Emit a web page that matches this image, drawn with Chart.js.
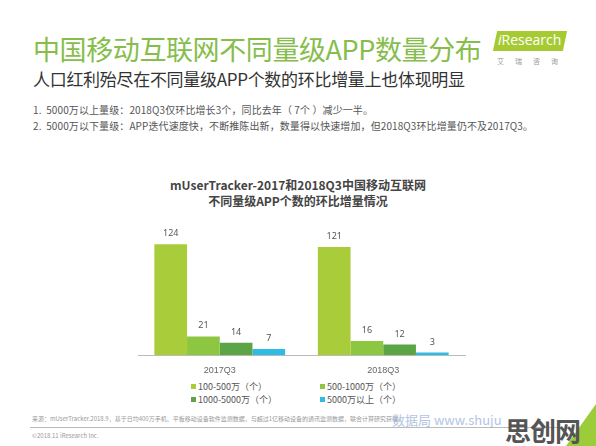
<!DOCTYPE html>
<html>
<head>
<meta charset="utf-8">
<script src="https://cdn.jsdelivr.net/npm/chart.js@4.4.0/dist/chart.umd.min.js"></script>
<style>
  body { margin: 0; width: 596px; height: 446px; background: #fff; overflow: hidden; position: relative;
         font-family: "Noto Sans CJK SC", "Noto Sans", sans-serif; }
  .abs { position: absolute; white-space: nowrap; }
  #title { left: 33px; top: 29px; font-size: 27px; color: #86bd4b; letter-spacing: -0.4px; }
  #subtitle { left: 33px; top: 66px; font-size: 17px; color: #333; letter-spacing: -0.3px; }
  .note { left: 33px; font-size: 10px; color: #555; letter-spacing: 0.1px; }
  #logo { left: 495px; top: 31px; width: 70px; height: 20px; background: #a6cb32;
          transform: skewX(-12deg); }
  #logoText { left: 498px; top: 30px; font-size: 14px; color: #fff; font-family: "Open Sans", sans-serif; }
  #logoSub { left: 497px; top: 56px; font-size: 7px; color: #999; letter-spacing: 11px; }
  #ctitle { left: 0; width: 596px; top: 177px; text-align: center; font-size: 12px; font-weight: bold;
            color: #444; line-height: 16px; }
  #chartBox { left: 130px; top: 222px; width: 343px; height: 156px; }
  .leg { font-size: 9px; color: #555; }
  .leg span { display: inline-block; width: 5px; height: 5px; margin-right: 2px; vertical-align: 1px; }
  .foot { font-size: 6px; color: #999; }
  #rule { left: 30px; top: 427px; width: 532px; height: 1px; background: #bbb; }
  #corner { left: 566px; top: 404px; width: 0; height: 0; border-left: 30px solid transparent;
            border-bottom: 42px solid #9ccc3a; }
</style>
</head>
<body>
<div id="title" class="abs">中国移动互联网不同量级APP数量分布</div>
<div id="subtitle" class="abs">人口红利殆尽在不同量级APP个数的环比增量上也体现明显</div>
<div class="abs note" style="top:102px">1.&nbsp; 5000万以上量级：2018Q3仅环比增长3个，同比去年（ 7个 ）减少一半。</div>
<div class="abs note" style="top:118px">2.&nbsp; 5000万以下量级：APP迭代速度快，不断推陈出新，数量得以快速增加，但2018Q3环比增量仍不及2017Q3。</div>
<div id="logo" class="abs"></div>
<div id="logoText" class="abs"><i>i</i>Research</div>
<div id="logoSub" class="abs">艾瑞咨询</div>
<div id="ctitle" class="abs">mUserTracker-2017和2018Q3中国移动互联网<br>不同量级APP个数的环比增量情况</div>
<div id="chartBox" class="abs"><canvas id="chart" width="343" height="156"></canvas></div>
<div id="legend"></div>
<div class="abs foot" style="left:32px; top:414px">来源：mUserTracker.2018.9，基于日均400万手机、平板移动设备软件监测数据，与超过1亿移动设备的通讯监测数据，联合计算研究获得。</div>
<div id="rule" class="abs"></div>
<div class="abs foot" style="left:32px; top:431px">©2018.11 iResearch Inc.</div>
<div id="corner" class="abs"></div>
<div class="abs" style="left:392px; top:410px; font-size:13px; color:#9fb6dd; opacity:0.8">数据局 www.shuju</div>
<div class="abs" style="left:505px; top:411px; font-size:26px; font-weight:bold; color:#555; letter-spacing:-1px">思创网</div>

<script>
const categories = ["2017Q3", "2018Q3"];
const seriesNames = ["100-500万（个）", "500-1000万（个）", "1000-5000万（个）", "5000万以上（个）"];
const seriesValues = [
  [124, 121],
  [21, 16],
  [14, 12],
  [7, 3]
];
const seriesColors = ["#a8cc3a", "#8dc640", "#5ca546", "#2fbbe3"];

// value labels above bars
const barLabels = {
  id: "barLabels",
  afterDatasetsDraw(chart) {
    const ctx = chart.ctx;
    ctx.save();
    ctx.font = "9px 'Noto Sans', sans-serif";
    ctx.fillStyle = "#555";
    ctx.textAlign = "center";
    ctx.textBaseline = "bottom";
    chart.data.datasets.forEach((ds, i) => {
      chart.getDatasetMeta(i).data.forEach((bar, j) => {
        ctx.fillText(ds.data[j], bar.x, bar.y - 6);
      });
    });
    ctx.restore();
  }
};

new Chart(document.getElementById("chart"), {
  type: "bar",
  data: {
    labels: categories,
    datasets: seriesNames.map((name, i) => ({
      label: name,
      data: seriesValues[i],
      backgroundColor: seriesColors[i],
      categoryPercentage: 0.8,
      barPercentage: 1.0
    }))
  },
  options: {
    responsive: false,
    animation: false,
    maintainAspectRatio: false,
    layout: { padding: { top: 8, left: 8, right: 8 } },
    plugins: { legend: { display: false }, tooltip: { enabled: false } },
    scales: {
      x: {
        grid: { display: false },
        border: { color: "#bbb", width: 1 },
        ticks: { color: "#666", font: { size: 9 }, padding: 2 }
      },
      y: { display: false, min: 0, max: 140 }
    }
  },
  plugins: [barLabels]
});

// legend in a 2x2 grid, built from the series arrays
const legPos = [[191, 380], [320, 380], [191, 393], [320, 393]];
const legend = document.getElementById("legend");
seriesNames.forEach((name, i) => {
  const d = document.createElement("div");
  d.className = "abs leg";
  d.style.left = legPos[i][0] + "px";
  d.style.top = legPos[i][1] + "px";
  d.innerHTML = `<span style="background:${seriesColors[i]}"></span>${name}`;
  legend.appendChild(d);
});
</script>
</body>
</html>
